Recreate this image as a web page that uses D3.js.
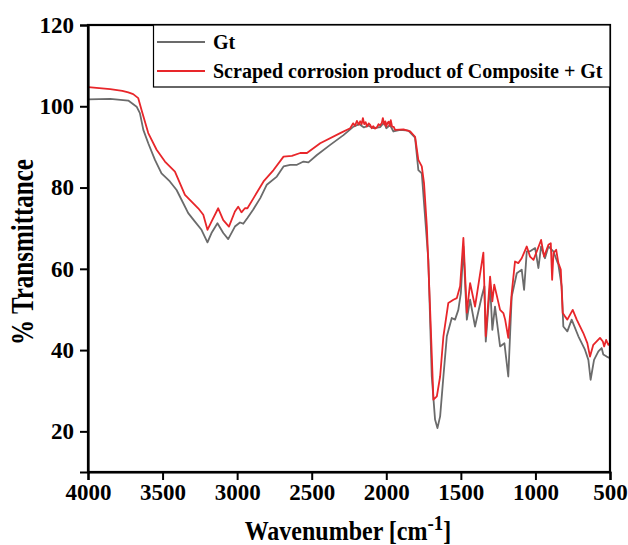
<!DOCTYPE html>
<html>
<head>
<meta charset="utf-8">
<script src="https://cdn.jsdelivr.net/npm/d3@7"></script>
<style>
  html, body { margin: 0; padding: 0; background: #fff; }
  svg text { font-family: "Liberation Serif", "Times New Roman", serif; font-weight: bold; fill: #000; }
</style>
</head>
<body>
<svg id="chart" width="628" height="545"></svg>
<script>
// ---- data ----
const seriesNames = ["Gt", "Scraped corrosion product of Composite + Gt"];
const seriesColors = ["#6b6b6b", "#e8262a"];

const xTicks = [4000, 3500, 3000, 2500, 2000, 1500, 1000, 500];
const yTicks = [20, 40, 60, 80, 100, 120];

const gtWavenumber = [3998, 3851, 3730, 3674, 3652, 3629, 3596, 3551, 3507, 3451, 3406, 3373, 3328, 3283, 3239, 3199, 3172, 3132, 3093, 3060, 3015, 2981, 2959, 2931, 2892, 2845, 2801, 2734, 2689, 2644, 2599, 2555, 2522, 2465, 2376, 2287, 2220, 2180, 2150, 2120, 2086, 2040, 2015, 2000, 1975, 1952, 1907, 1852, 1807, 1785, 1762, 1718, 1695, 1673, 1657, 1639, 1617, 1594, 1561, 1539, 1517, 1500, 1483, 1460, 1438, 1405, 1360, 1342, 1333, 1304, 1289, 1271, 1237, 1208, 1182, 1159, 1125, 1092, 1076, 1058, 1036, 1002, 980, 962, 936, 913, 880, 846, 824, 813, 786, 757, 712, 668, 645, 630, 607, 578, 556, 545, 522, 500];
const gtValues = [101.7, 101.8, 101.4, 99.9, 98.3, 94.2, 90.9, 86.8, 83.5, 81.5, 79.4, 77.0, 73.7, 71.6, 69.6, 66.5, 68.8, 71.2, 68.8, 67.3, 70.4, 71.4, 71.1, 72.5, 74.6, 77.4, 80.7, 82.7, 85.2, 85.6, 85.6, 86.4, 86.2, 88.0, 90.5, 92.9, 95.0, 95.6, 94.8, 95.2, 94.6, 94.9, 96.0, 94.6, 95.4, 93.8, 94.2, 94.0, 92.3, 84.3, 83.5, 62.2, 33.5, 22.9, 20.8, 23.7, 33.5, 43.4, 47.9, 47.5, 49.9, 54.0, 65.5, 47.5, 52.4, 45.8, 53.2, 55.7, 42.1, 56.1, 45.0, 50.7, 40.9, 41.7, 33.5, 53.2, 58.9, 59.8, 54.8, 64.3, 64.3, 65.1, 60.2, 65.5, 62.6, 65.5, 64.3, 61.0, 55.7, 45.8, 44.6, 47.5, 43.4, 40.1, 37.6, 32.7, 37.6, 39.7, 40.5, 38.9, 38.4, 38.0];

const compWavenumber = [3998, 3851, 3770, 3730, 3697, 3663, 3641, 3596, 3540, 3484, 3417, 3350, 3261, 3227, 3199, 3172, 3127, 3093, 3055, 3015, 2993, 2971, 2948, 2931, 2890, 2823, 2756, 2689, 2633, 2577, 2532, 2443, 2309, 2242, 2222, 2210, 2197, 2185, 2175, 2165, 2157, 2148, 2138, 2130, 2118, 2108, 2098, 2088, 2075, 2063, 2052, 2041, 2030, 2023, 2014, 2006, 2000, 1992, 1984, 1977, 1970, 1961, 1950, 1941, 1885, 1840, 1807, 1785, 1762, 1747, 1728, 1706, 1684, 1661, 1639, 1617, 1584, 1550, 1527, 1505, 1483, 1460, 1438, 1405, 1349, 1333, 1304, 1289, 1276, 1237, 1215, 1203, 1182, 1159, 1137, 1115, 1092, 1058, 1036, 1013, 991, 962, 942, 913, 897, 888, 879, 861, 846, 830, 817, 802, 786, 750, 723, 679, 652, 634, 612, 567, 548, 539, 526, 511, 500];
const compValues = [104.7, 104.2, 103.8, 103.4, 103.0, 102.0, 99.1, 93.4, 89.3, 86.4, 83.9, 78.2, 74.9, 73.3, 69.6, 71.6, 74.9, 72.0, 70.4, 74.1, 75.3, 73.9, 74.9, 74.9, 77.4, 81.5, 84.3, 87.6, 87.8, 88.5, 88.5, 90.9, 93.4, 94.6, 95.8, 95.2, 96.4, 95.5, 96.3, 95.6, 97.1, 95.6, 96.1, 95.0, 95.8, 95.4, 94.6, 95.1, 94.5, 94.8, 95.6, 95.3, 95.9, 97.1, 95.5, 96.3, 95.0, 95.9, 96.2, 95.2, 96.6, 95.0, 94.9, 94.2, 94.3, 93.8, 92.5, 86.8, 85.2, 81.1, 70.4, 49.9, 27.8, 28.6, 33.5, 43.4, 51.6, 52.4, 52.8, 55.7, 67.6, 49.2, 56.5, 50.7, 64.0, 43.4, 58.1, 52.0, 56.1, 49.9, 49.1, 47.5, 43.0, 54.0, 61.8, 61.4, 62.6, 65.5, 63.0, 62.2, 64.3, 67.1, 63.0, 65.9, 66.3, 57.3, 63.9, 64.7, 61.4, 59.8, 49.1, 48.3, 47.5, 49.9, 47.5, 44.2, 41.7, 38.4, 41.3, 43.0, 42.1, 40.9, 42.5, 41.3, 41.7];

// ---- layout ----
const svg = d3.select("#chart");
const L = 88, R = 610, T = 25, B = 472;

const x = d3.scaleLinear().domain([4000, 500]).range([L, R]);
const y = d3.scaleLinear().domain([10, 120]).range([B, T]);

const line = d3.line().x(d => x(d[0])).y(d => y(d[1]));
const gtData = d3.zip(gtWavenumber, gtValues);
const compData = d3.zip(compWavenumber, compValues);

svg.append("path").datum(gtData).attr("d", line)
  .attr("fill", "none").attr("stroke", seriesColors[0]).attr("stroke-width", 1.8).attr("stroke-linejoin", "round");
svg.append("path").datum(compData).attr("d", line)
  .attr("fill", "none").attr("stroke", seriesColors[1]).attr("stroke-width", 1.8).attr("stroke-linejoin", "round");

// frame
svg.append("rect").attr("x", L).attr("y", T).attr("width", R - L).attr("height", B - T)
  .attr("fill", "none").attr("stroke", "#000").attr("stroke-width", 2.2);

// axes
const xAxis = d3.axisBottom(x).tickValues(xTicks).tickSize(8).tickPadding(4).tickFormat(d3.format("d"));
const gx = svg.append("g").attr("transform", `translate(0,${B})`).call(xAxis);
gx.select(".domain").attr("stroke-width", 2.2);
gx.selectAll(".tick line").attr("stroke-width", 2);
gx.selectAll(".tick text").attr("font-size", 23).style("font-family", "'Liberation Serif', serif").style("font-weight", "bold");

const yAxis = d3.axisLeft(y).tickValues(yTicks).tickSize(8).tickPadding(6).tickFormat(d3.format("d"));
const gy = svg.append("g").attr("transform", `translate(${L},0)`).call(yAxis);
gy.select(".domain").attr("stroke-width", 2.2);
gy.selectAll(".tick line").attr("stroke-width", 2);
gy.selectAll(".tick text").attr("font-size", 23).style("font-family", "'Liberation Serif', serif").style("font-weight", "bold");

// axis titles
svg.append("text").attr("transform", "translate(33,252) rotate(-90) scale(1,1.3)")
  .attr("text-anchor", "middle").attr("font-size", 25).text("% Transmittance");

const xt = svg.append("text").attr("transform", "translate(348,540) scale(1,1.12)")
  .attr("text-anchor", "middle").attr("font-size", 24);
xt.append("tspan").text("Wavenumber [cm");
xt.append("tspan").attr("dy", -9).attr("font-size", 19).text("-1");
xt.append("tspan").attr("dy", 9).text("]");

// legend
const lg = svg.append("g");
lg.append("rect").attr("x", 153.5).attr("y", T).attr("width", R - 153.5).attr("height", 62)
  .attr("fill", "#fff").attr("stroke", "#000").attr("stroke-width", 1.2);
const legendY = [42, 71];
seriesNames.forEach((name, i) => {
  lg.append("line").attr("x1", 157).attr("x2", 205).attr("y1", legendY[i]).attr("y2", legendY[i])
    .attr("stroke", seriesColors[i]).attr("stroke-width", 1.8);
  lg.append("text").attr("x", 213).attr("y", legendY[i] + 7).attr("font-size", 20).text(name);
});
</script>
</body>
</html>
